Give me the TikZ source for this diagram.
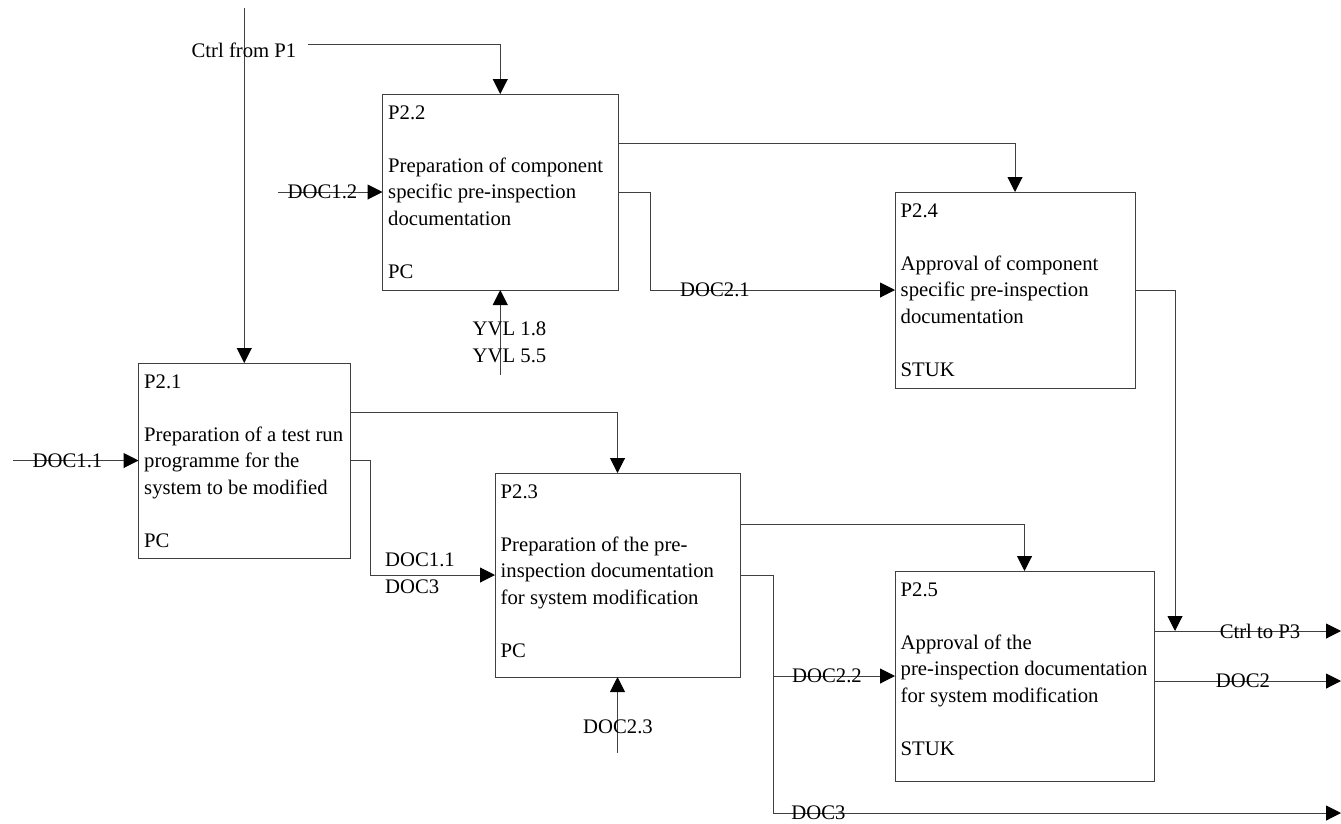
\documentclass[tikz,border=0pt]{standalone}
\usepackage{fontspec}
\setmainfont{Liberation Serif}
\usetikzlibrary{arrows.meta}
\newcommand\ptext[8]{%
  \node[txt] (#1t0) at (#2+5.5,#3+25) {#4};
  \node[txt] (#1t1) at (#2+5.5,#3+78) {#5};
  \node[txt] (#1t2) at (#2+5.5,#3+104.5) {#6};
  \node[txt] (#1t3) at (#2+5.5,#3+131) {#7};
  \node[txt] (#1t4) at (#2+5.5,#3+184) {#8};
}
\begin{document}
\begin{tikzpicture}[x=1pt,y=-1pt,
  wire/.style={draw=black!75, line width=1pt},
  arr/.style={wire, -{Triangle[length=15pt,width=15pt,color=black]}},
  procbox/.style={draw=black!75, line width=1pt, anchor=north west, inner sep=0pt, outer sep=0pt},
  txt/.style={font=\fontsize{20.7}{26.5}\selectfont, inner sep=0pt, anchor=base west},
  lbl/.style={font=\fontsize{20.7}{26.5}\selectfont, inner sep=0pt}]
\useasboundingbox (0,0) rectangle (1341,823);

% boxes
\node[procbox, minimum width=211.5pt, minimum height=195pt] (p21) at (138.5,363) {};
\node[procbox, minimum width=235.5pt, minimum height=196pt] (p22) at (382.5,94) {};
\node[procbox, minimum width=245pt, minimum height=204pt] (p23) at (495,473) {};
\node[procbox, minimum width=240pt, minimum height=196pt] (p24) at (895,192) {};
\node[procbox, minimum width=259pt, minimum height=210pt] (p25) at (895,571) {};

\ptext{p21}{138.5}{363}{P2.1}{Preparation of a test run}{programme for the}{system to be modified}{PC}
\ptext{p22}{382.5}{94}{P2.2}{Preparation of component}{specific pre-inspection}{documentation}{PC}
\ptext{p23}{495}{473}{P2.3}{Preparation of the pre-}{inspection documentation}{for system modification}{PC}
\ptext{p24}{895}{192}{P2.4}{Approval of component}{specific pre-inspection}{documentation}{STUK}
\ptext{p25}{895}{571}{P2.5}{Approval of the}{pre-inspection documentation}{for system modification}{STUK}

% control from P1
\coordinate (c1) at (244.25,8);
\draw[arr] (c1) -- (p21.north);
\node[lbl] (ctrlp1) at (244,50) {Ctrl from P1};
\coordinate (c2) at (308,44);
\draw[arr] (c2) -| (p22.north);

% DOC1.2
\coordinate (d12) at (278,192);
\draw[arr] (d12) -- (p22.west);
\node[lbl] (ld12) at (322.5,192) {DOC1.2};

% YVL
\coordinate (yvl) at (500.25,375);
\draw[arr] (yvl) -- (p22.south);
\node[lbl] (lyvl1) at (509.5,329) {YVL 1.8};
\node[lbl] (lyvl2) at (509.5,356) {YVL 5.5};

% P2.2 outputs
\coordinate (p22o1) at (618,143);
\draw[arr] (p22o1) -| (p24.north);
\draw[arr] (p22.east) -- ++(32,0) |- (p24.west);
\node[lbl] (ld21) at (715,290) {DOC2.1};

% P2.4 output
\coordinate (cj) at (1175,631);
\draw[arr] (p24.east) -| (cj);

% P2.5 outputs
\coordinate (p25o1) at (1154,631);
\coordinate (out1) at (1341,631);
\draw[arr] (p25o1) -- (out1);
\node[lbl] (lctrl3) at (1260,631) {Ctrl to P3};
\coordinate (p25o2) at (1154,681);
\coordinate (out2) at (1341,681);
\draw[arr] (p25o2) -- (out2);
\node[lbl] (ldoc2) at (1243,681) {DOC2};

% P2.1 inputs/outputs
\coordinate (d11) at (13,460.5);
\draw[arr] (d11) -- (p21.west);
\node[lbl] (ld11) at (67.5,460.5) {DOC1.1};
\coordinate (p21o1) at (350,412);
\draw[arr] (p21o1) -| (p23.north);
\draw[arr] (p21.east) -- ++(20,0) |- (p23.west);
\node[lbl, anchor=west] (ld11b) at (385,560) {DOC1.1};
\node[lbl, anchor=west] (ld3a) at (385,587) {DOC3};

% DOC2.3
\coordinate (d23) at (617.5,753);
\draw[arr] (d23) -- (p23.south);
\node[lbl] (ld23) at (618,727) {DOC2.3};

% P2.3 outputs
\coordinate (p23o1) at (740,524);
\draw[arr] (p23o1) -| (p25.north);
\coordinate (sp) at (773,575);
\coordinate (sb) at (773,813);
\coordinate (out3) at (1341,813);
\draw[arr] (p23.east) -- (sp) -- (sb) -- (out3);
\draw[arr] (sp |- p25.west) -- (p25.west);
\node[lbl] (ld22) at (827,676) {DOC2.2};
\node[lbl] (ld3b) at (818.5,813) {DOC3};
\end{tikzpicture}
\end{document}
